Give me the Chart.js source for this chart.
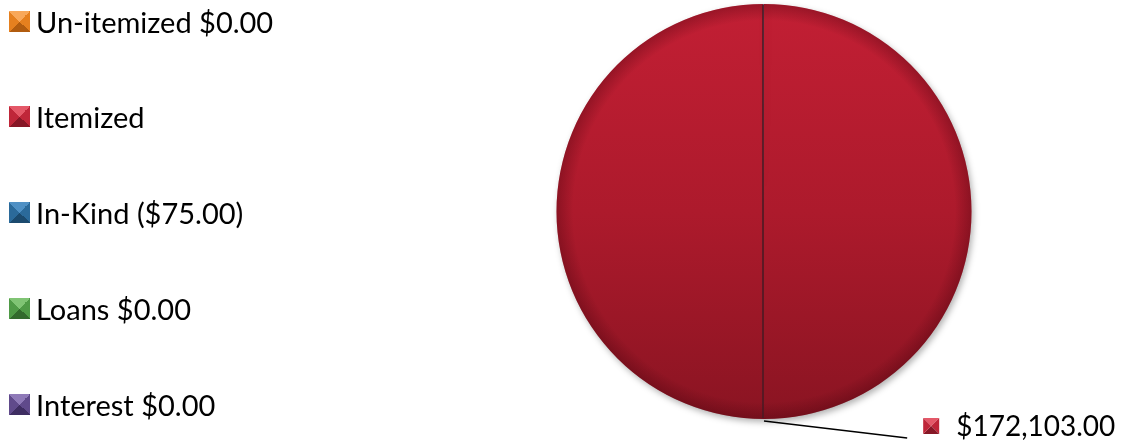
<!DOCTYPE html>
<html>
<head>
<meta charset="utf-8">
<script src="https://cdn.jsdelivr.net/npm/chart.js@4/dist/chart.umd.min.js"></script>
<style>
    html, body { margin: 0; padding: 0; background: #fff; }
    #wrap { position: relative; width: 1123px; height: 446px; }
    #pie-chart { position: absolute; left: 0; top: 0; }
    .legend-item {
        position: absolute;
        left: 9px;
        height: 32px;
        display: flex;
        align-items: center;
        font-family: Lato, 'Noto Sans', sans-serif;
        font-size: 29px;
        color: #000;
        white-space: nowrap;
    }
    .legend-icon {
        width: 21px;
        height: 21px;
        margin-right: 6px;
        box-sizing: border-box;
    }
</style>
</head>
<body>
<div id="wrap">
    <canvas id="pie-chart" width="1123" height="446"></canvas>
</div>
<script>
const categories = ['Un-itemized', 'Itemized', 'In-Kind', 'Loans', 'Interest'];
const amounts = [0, 172103, -75, 0, 0];
const legendLabels = ['Un-itemized $0.00', 'Itemized', 'In-Kind ($75.00)', 'Loans $0.00', 'Interest $0.00'];
const sliceLabel = '$172,103.00';

// pyramid bevel shades: top, side, bottom
const shades = [
    ['#f8a85a', '#e5801f', '#b15c0f'],
    ['#e45868', '#bf2639', '#861726'],
    ['#4f90c4', '#2b6a9a', '#1b4a6e'],
    ['#80c474', '#4f9a46', '#336a2d'],
    ['#8f7ab8', '#604a8b', '#3e2d61']
];

document.addEventListener('DOMContentLoaded', () => {
    const wrap = document.getElementById('wrap');

    // html legend, one row per category
    legendLabels.forEach((text, i) => {
        const item = document.createElement('div');
        item.className = 'legend-item';
        item.style.top = (5 + i * 95.8) + 'px';
        const icon = document.createElement('span');
        icon.className = 'legend-icon';
        const [t, s, b] = shades[i];
        icon.style.background = `conic-gradient(from -45deg, ${t} 0deg 90deg, ${s} 90deg 180deg, ${b} 180deg 270deg, ${s} 270deg 360deg)`;
        const label = document.createElement('span');
        label.textContent = text;
        item.appendChild(icon);
        item.appendChild(label);
        wrap.appendChild(item);
    });

    function sliceFill(context) {
        const i = context.dataIndex;
        const area = context.chart.chartArea;
        if (i !== 1 || !area) return shades[i][1];
        const g = context.chart.ctx.createLinearGradient(0, area.top, 0, area.bottom);
        g.addColorStop(0, '#c21f34');
        g.addColorStop(0.5, '#ad1a2c');
        g.addColorStop(1, '#8a1422');
        return g;
    }

    // soft shadow under the pie and the dark seam of the bevel
    const bevelPlugin = {
        id: 'bevel',
        beforeDatasetsDraw(chart) {
            const ctx = chart.ctx;
            ctx.save();
            ctx.shadowColor = 'rgba(0,0,0,0.3)';
            ctx.shadowBlur = 6;
            ctx.shadowOffsetX = 2;
            ctx.shadowOffsetY = 3;
        },
        afterDatasetsDraw(chart) {
            const ctx = chart.ctx;
            ctx.restore();
            const arc = chart.getDatasetMeta(0).data[1];
            const r = arc.outerRadius;
            ctx.save();
            // rim darkening
            const rim = ctx.createRadialGradient(arc.x, arc.y, r * 0.92, arc.x, arc.y, r);
            rim.addColorStop(0, 'rgba(60,0,10,0)');
            rim.addColorStop(1, 'rgba(60,0,10,0.3)');
            ctx.fillStyle = rim;
            ctx.beginPath();
            ctx.arc(arc.x, arc.y, r, 0, Math.PI * 2);
            ctx.fill();
            // seam
            ctx.strokeStyle = 'rgba(75,25,35,0.8)';
            ctx.lineWidth = 2;
            ctx.beginPath();
            ctx.moveTo(arc.x - 1, arc.y - r + 1);
            ctx.lineTo(arc.x - 1, arc.y + r - 1);
            ctx.stroke();

            // callout for the itemized slice
            const endX = arc.x + r * 0.69;
            const endY = arc.y + r + 19;
            ctx.strokeStyle = '#000';
            ctx.lineWidth = 1.5;
            ctx.beginPath();
            ctx.moveTo(arc.x, arc.y + r + 2);
            ctx.lineTo(endX, endY);
            ctx.stroke();
            const [t, s, b] = shades[1];
            const bx = endX + 16, by = endY - 20, bs = 16;
            const tri = (pts, col) => {
                ctx.fillStyle = col;
                ctx.beginPath();
                ctx.moveTo(pts[0], pts[1]);
                ctx.lineTo(pts[2], pts[3]);
                ctx.lineTo(pts[4], pts[5]);
                ctx.closePath();
                ctx.fill();
            };
            const cx = bx + bs / 2, cy = by + bs / 2;
            tri([bx, by, bx + bs, by, cx, cy], t);
            tri([bx + bs, by, bx + bs, by + bs, cx, cy], s);
            tri([bx, by + bs, bx + bs, by + bs, cx, cy], b);
            tri([bx, by, bx, by + bs, cx, cy], s);
            ctx.fillStyle = '#000';
            ctx.font = '28px Lato, "Noto Sans", sans-serif';
            ctx.textBaseline = 'alphabetic';
            ctx.fillText(sliceLabel, bx + 33, endY - 2);
            ctx.restore();
        }
    };

    new Chart(document.getElementById('pie-chart'), {
        type: 'pie',
        data: {
            labels: categories,
            datasets: [{
                data: amounts,
                backgroundColor: sliceFill,
                borderWidth: 0
            }]
        },
        options: {
            responsive: false,
            animation: false,
            layout: {
                padding: { left: 556, right: 151, top: 4, bottom: 27 }
            },
            plugins: {
                legend: { display: false },
                tooltip: { enabled: false }
            }
        },
        plugins: [bevelPlugin]
    });
});
</script>
</body>
</html>
